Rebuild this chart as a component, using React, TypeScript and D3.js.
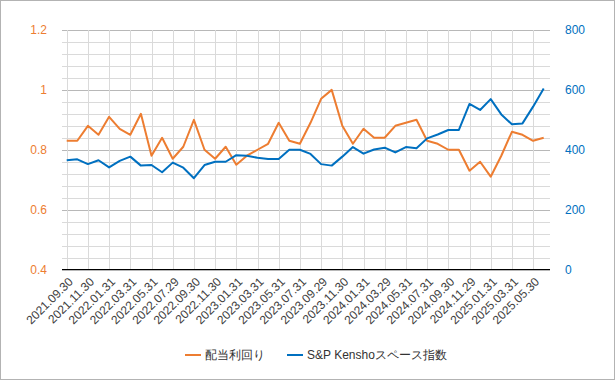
import React from "react";
import * as d3 from "d3";

const dates = [
  "2021.09.30","2021.10.29","2021.11.30","2021.12.31","2022.01.31","2022.02.28","2022.03.31","2022.04.29",
  "2022.05.31","2022.06.30","2022.07.29","2022.08.31","2022.09.30","2022.10.31","2022.11.30","2022.12.30",
  "2023.01.31","2023.02.28","2023.03.31","2023.04.28","2023.05.31","2023.06.30","2023.07.31","2023.08.31",
  "2023.09.29","2023.10.31","2023.11.30","2023.12.29","2024.01.31","2024.02.29","2024.03.29","2024.04.30",
  "2024.05.31","2024.06.28","2024.07.31","2024.08.30","2024.09.30","2024.10.31","2024.11.29","2024.12.31",
  "2025.01.31","2025.02.28","2025.03.31","2025.04.30","2025.05.30","2025.06.30",
];

const dividendYield = [
  0.83,0.83,0.88,0.85,0.91,0.87,0.85,0.92,0.78,0.84,
  0.77,0.81,0.90,0.80,0.77,0.81,0.75,0.78,0.80,0.82,
  0.89,0.83,0.82,0.89,0.97,1.00,0.88,0.82,0.87,0.84,
  0.84,0.88,0.89,0.90,0.83,0.82,0.80,0.80,0.73,0.76,
  0.71,0.78,0.86,0.85,0.83,0.84,
];

const spaceIndex = [
  365,368,352,365,341,363,377,347,349,325,
  357,340,305,349,360,360,382,380,373,369,
  369,400,400,386,352,347,377,409,387,401,
  407,391,409,405,438,451,466,466,553,533,
  569,518,485,488,544,605,
];

const leftTicks = [0.4, 0.6, 0.8, 1.0, 1.2];
const rightTicks = [0, 200, 400, 600, 800];
const seriesNames = ["配当利回り", "S&P Kenshoスペース指数"];

const W = 615, H = 380;
const ORANGE = "#ED7D31";
const BLUE = "#0070C0";
const FONT = "'Liberation Sans', Arial, sans-serif";

export default function App() {
  const left = 66.7, top = 30, bottom = 269.5, plotRight = 550;
  const step = 10.6;
  const x = d3.scaleLinear().domain([0, dates.length - 1]).range([left, left + step * (dates.length - 1)]);
  const yL = d3.scaleLinear().domain([0.4, 1.2]).range([bottom, top]);
  const yR = d3.scaleLinear().domain([0, 800]).range([bottom, top]);

  const minor = d3.range(0, 801, 40);
  const lineL = d3.line<number>().x((_, i) => x(i)).y((d) => yL(d));
  const lineR = d3.line<number>().x((_, i) => x(i)).y((d) => yR(d));

  const labelIdx = dates.map((_, i) => i).filter((i) => i % 2 === 0);

  return (
    <svg width={W} height={H} style={{ position: "absolute", left: 0, top: 0, fontFamily: FONT }}>
      <rect x={0} y={0} width={W} height={H} fill="#fff" />
      <rect x={0.5} y={0.5} width={W - 1} height={H - 1} fill="none" stroke="#b3b3b3" />
      {minor.map((v) => (
        <line key={"h" + v} x1={62} x2={plotRight} y1={Math.round(yR(v)) + 0.5} y2={Math.round(yR(v)) + 0.5}
          stroke={v % 200 === 0 ? "#b8b8b8" : "#dadada"} strokeWidth={1} />
      ))}
      {labelIdx.map((i) => (
        <line key={"v" + i} x1={Math.round(x(i)) + 0.5} x2={Math.round(x(i)) + 0.5} y1={top} y2={bottom}
          stroke="#dadada" strokeWidth={1} />
      ))}
      <line x1={62} x2={plotRight} y1={bottom} y2={bottom} stroke="#000" strokeWidth={1.2} />
      {leftTicks.map((t) => (
        <text key={"l" + t} x={47} y={yL(t)} dy="0.35em" textAnchor="end" fontSize={12} fill={ORANGE}>
          {d3.format("~g")(t)}
        </text>
      ))}
      {rightTicks.map((t) => (
        <text key={"r" + t} x={565} y={yR(t)} dy="0.35em" textAnchor="start" fontSize={12} fill={BLUE}>
          {t}
        </text>
      ))}
      {labelIdx.map((i) => (
        <text key={"x" + i} transform={`translate(${x(i) + 4},${bottom + 10}) rotate(-45)`} textAnchor="end"
          dy="0.35em" fontSize={12} fill="#404040">
          {dates[i]}
        </text>
      ))}
      <path d={lineL(dividendYield) || ""} fill="none" stroke={ORANGE} strokeWidth={2} strokeLinejoin="round" />
      <path d={lineR(spaceIndex) || ""} fill="none" stroke={BLUE} strokeWidth={2} strokeLinejoin="round" />
      <g fontSize={12} fill="#333">
        <line x1={185} x2={201} y1={355} y2={355} stroke={ORANGE} strokeWidth={2} />
        <text x={205} y={355} dy="0.35em">{seriesNames[0]}</text>
        <line x1={287} x2={303} y1={355} y2={355} stroke={BLUE} strokeWidth={2} />
        <text x={307} y={355} dy="0.35em">{seriesNames[1]}</text>
      </g>
    </svg>
  );
}
